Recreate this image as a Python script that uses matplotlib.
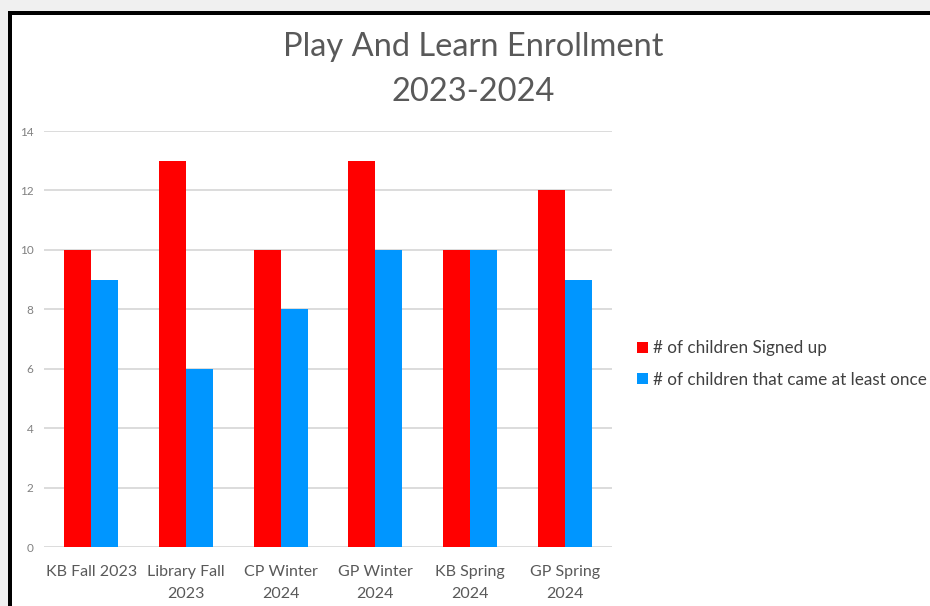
import matplotlib.pyplot as plt
from matplotlib.patches import Rectangle
import numpy as np

plt.rcParams['font.family'] = ['Lato', 'DejaVu Sans']

categories = ["KB Fall 2023", "Library Fall\n2023", "CP Winter\n2024",
              "GP Winter\n2024", "KB Spring\n2024", "GP Spring\n2024"]
signed_up = [10, 13, 10, 13, 10, 12]
came_once = [9, 6, 8, 10, 10, 9]
series_names = ["# of children Signed up", "# of children that came at least once"]

W, H = 930, 606
fig = plt.figure(figsize=(W / 100, H / 100), dpi=100)
fig.patch.set_facecolor("#f0f0f0")

# black frame, open at the right and bottom edges
fig.patches.append(Rectangle((8 / W, 0), 1, (H - 11) / H, transform=fig.transFigure,
                             facecolor="black", edgecolor="none", zorder=-3))
fig.patches.append(Rectangle((12 / W, 0), 1, (H - 15) / H, transform=fig.transFigure,
                             facecolor="white", edgecolor="none", zorder=-2))

ax = fig.add_axes([44 / W, 59 / H, 568 / W, 416 / H])
ax.set_facecolor("none")
ax.set_zorder(1)

x = np.arange(len(categories))
bw = 0.285
ax.bar(x - bw / 2, signed_up, bw, color="#ff0000", label=series_names[0], zorder=3)
ax.bar(x + bw / 2, came_once, bw, color="#0096ff", label=series_names[1], zorder=3)

ax.set_xlim(-0.5, len(categories) - 0.5)
ax.set_ylim(0, 14)
ax.set_yticks(range(0, 15, 2))
ax.grid(axis="y", color="#d9d9d9", linewidth=1.3, zorder=0)
ax.set_axisbelow(True)
for s in ax.spines.values():
    s.set_visible(False)
ax.tick_params(axis="both", length=0)
ax.tick_params(axis="y", labelsize=8.5, labelcolor="#808080", pad=7.5)
ax.tick_params(axis="x", labelsize=11.5, labelcolor="#595959", pad=13)
ax.set_xticks(x)
ax.set_xticklabels(categories, linespacing=1.75)

fig.text(473 / W, 1 - 47 / H, "Play And Learn Enrollment", ha="center", va="center",
         fontsize=23.5, color="#595959", zorder=5)
fig.text(473 / W, 1 - 92 / H, "2023-2024", ha="center", va="center",
         fontsize=23.5, color="#595959", zorder=5)

leg = fig.legend(loc="center left", bbox_to_anchor=(622 / W, 1 - 364 / H), frameon=False,
                 fontsize=12.3, labelcolor="#404040", handlelength=0.6, handleheight=0.6,
                 handletextpad=0.3, labelspacing=0.9)
leg.set_zorder(5)

fig.savefig("out.png", dpi=100, facecolor=fig.get_facecolor())
